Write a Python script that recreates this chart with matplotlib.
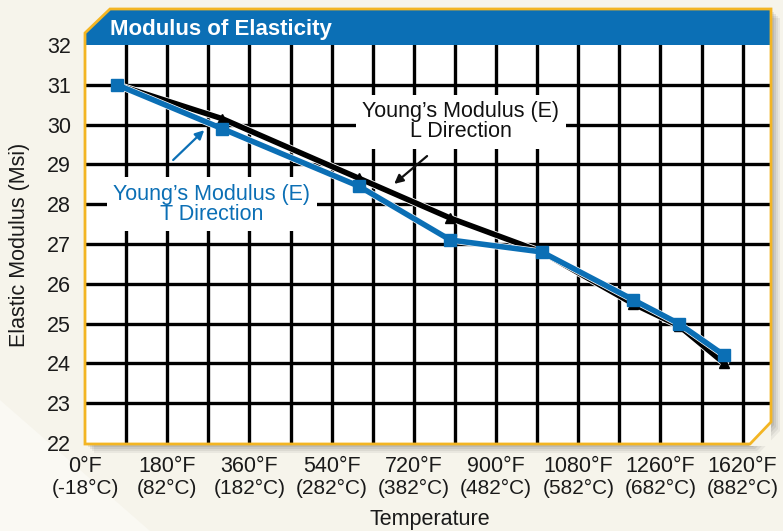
import numpy as np
import matplotlib
matplotlib.use("Agg")
import matplotlib.pyplot as plt
import matplotlib.patheffects as pe
from matplotlib.patches import Polygon

plt.rcParams['font.family'] = ['Liberation Sans', 'DejaVu Sans']

#%% data
temp_f = [70, 300, 600, 800, 1000, 1200, 1300, 1400]
e_long = [31.0, 30.15, 28.65, 27.65, 26.8, 25.5, 24.95, 24.0]
e_trans = [31.0, 29.9, 28.45, 27.1, 26.8, 25.6, 25.0, 24.2]

tick_f = [0, 180, 360, 540, 720, 900, 1080, 1260, 1440]
labels_f = ['0°F', '180°F', '360°F', '540°F', '720°F', '900°F',
            '1080°F', '1260°F', '1620°F']
labels_c = ['(-18°C)', '(82°C)', '(182°C)', '(282°C)', '(382°C)',
            '(482°C)', '(582°C)', '(682°C)', '(882°C)']
y_ticks = list(range(22, 33))

#%% colours / helpers
BLUE = '#0b6fb5'
YELLOW = '#f3b523'
CREAM = '#f6f4eb'
W, H = 783, 531

def fpt(px, py):
    # pixel position -> figure fraction
    return (px / W, 1 - py / H)

fig = plt.figure(figsize=(W / 100, H / 100), dpi=100, facecolor=CREAM)

# lighter wedge at the bottom left of the background
fig.patches.append(Polygon([fpt(0, 400), fpt(0, 531), fpt(150, 531)], closed=True,
                           transform=fig.transFigure, facecolor='#faf9f3',
                           edgecolor='none', zorder=-3))

frame = [(85, 33), (110, 9), (771, 9), (771, 422), (750, 444), (85, 444)]

# soft shadow
for k, a in zip([9, 7, 5, 3], [0.05, 0.06, 0.07, 0.08]):
    fig.patches.append(Polygon([fpt(x + k, y + k) for x, y in frame], closed=True,
                               transform=fig.transFigure, facecolor='black',
                               edgecolor='none', alpha=a, zorder=-2))

ax = fig.add_axes([85 / W, 1 - 443 / H, (771 - 85) / W, (443 - 45) / H])
ax.set_facecolor('white')
ax.set_xlim(0, 1502)
ax.set_ylim(22, 32)

# grid
for v in np.arange(90, 1441, 90):
    ax.axvline(v, color='black', lw=2.4, zorder=1)
for v in y_ticks[1:-1]:
    ax.axhline(v, color='black', lw=2.4, zorder=1)

# series: lines with a thin white edge, markers drawn plain on top
ax.plot(temp_f, e_long, color='black', lw=4.0,
        path_effects=[pe.Stroke(linewidth=5.2, foreground='white'), pe.Normal()],
        zorder=3)
ax.plot(temp_f, e_long, ls='none', color='black', marker='^', ms=7, zorder=3.1)
ax.plot(temp_f, e_trans, color=BLUE, lw=4.0,
        path_effects=[pe.Stroke(linewidth=5.0, foreground='white'), pe.Normal()],
        zorder=4)
ax.plot(temp_f, e_trans, ls='none', color=BLUE, marker='s', ms=9, zorder=4.1)

# labels with white boxes
ax.text(823, 30.07, 'Young\u2019s Modulus (E)\nL Direction', ha='center', va='center',
        fontsize=15.5, color='#111111', linespacing=0.95, zorder=5,
        bbox=dict(boxstyle='square,pad=0.3', facecolor='white', edgecolor='none'))
ax.annotate('', xy=(677, 28.51), xytext=(749, 29.21),
            arrowprops=dict(arrowstyle='-|>', color='#111111', lw=1.6,
                            mutation_scale=13, shrinkA=0, shrinkB=0), zorder=5)

ax.text(278, 28.0, 'Young\u2019s Modulus (E)\nT Direction', ha='center', va='center',
        fontsize=15.5, color=BLUE, linespacing=0.95, zorder=5,
        bbox=dict(boxstyle='square,pad=0.3', facecolor='white', edgecolor='none'))
ax.annotate('', xy=(261, 29.86), xytext=(193, 29.11),
            arrowprops=dict(arrowstyle='-|>', color=BLUE, lw=1.6,
                            mutation_scale=13, shrinkA=0, shrinkB=0), zorder=5)

# axes ticks
ax.set_yticks(y_ticks)
ax.set_xticks(tick_f)
ax.set_xticklabels(labels_f)
ax.tick_params(length=0, labelsize=15.5, colors='#1a1a1a')
ax.tick_params(axis='x', pad=9)
ax.tick_params(axis='y', pad=10)
for s in ax.spines.values():
    s.set_visible(False)
for x, lab in zip(tick_f, labels_c):
    ax.text(x, -0.113, lab, transform=ax.get_xaxis_transform(), ha='center',
            va='center', fontsize=15, color='#1a1a1a', clip_on=False)

# title bar
fig.patches.append(Polygon([fpt(85, 33), fpt(110, 9), fpt(771, 9), fpt(771, 45),
                            fpt(85, 45)], closed=True, transform=fig.transFigure,
                           facecolor=BLUE, edgecolor='none', zorder=2))
# chamfered bottom-right corner
fig.patches.append(Polygon([fpt(771, 422), fpt(771, 446), fpt(749, 446)], closed=True,
                           transform=fig.transFigure, facecolor=CREAM,
                           edgecolor='none', zorder=2))
fig.patches.append(Polygon([fpt(x, y) for x, y in frame], closed=True,
                           transform=fig.transFigure, facecolor='none',
                           edgecolor=YELLOW, lw=2.0, zorder=3))
fig.text(*fpt(110, 29), 'Modulus of Elasticity', color='white', fontsize=16,
         fontweight='bold', ha='left', va='center')

fig.text(*fpt(20, 245), 'Elastic Modulus (Msi)', rotation=90, ha='center',
         va='center', fontsize=15.5, color='#1a1a1a')
fig.text(*fpt(430, 519), 'Temperature', ha='center', va='center',
         fontsize=15.5, color='#1a1a1a')

fig.savefig('out.png', dpi=100, facecolor=CREAM)
